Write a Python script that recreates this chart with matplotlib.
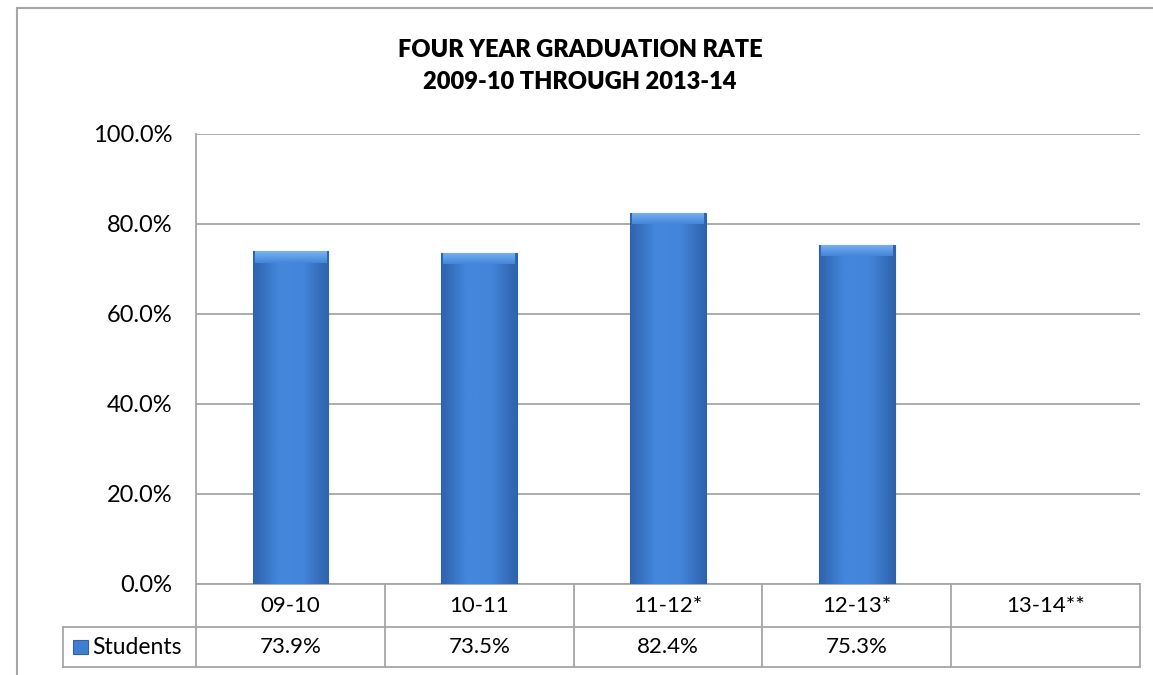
import numpy as np
import matplotlib
matplotlib.use('Agg')
import matplotlib.pyplot as plt
from matplotlib.colors import LinearSegmentedColormap
from matplotlib.lines import Line2D
from matplotlib.patches import Rectangle

plt.rcParams['font.family'] = ['Lato', 'DejaVu Sans']

# data
categories = ['09-10', '10-11', '11-12*', '12-13*', '13-14**']
students = [73.9, 73.5, 82.4, 75.3, np.nan]
series_name = 'Students'
title = 'FOUR YEAR GRADUATION RATE\n2009-10 THROUGH 2013-14'

W, H = 1153, 675
fig = plt.figure(figsize=(W / 100, H / 100), dpi=100)
grey = '#a6a6a6'
fs = 16

# outer chart frame (left and top only visible)
fig.add_artist(Line2D([17 / W, 17 / W], [0, 1 - 8 / H], color=grey, lw=1.5))
fig.add_artist(Line2D([17 / W, 1], [1 - 8 / H, 1 - 8 / H], color=grey, lw=1.5))

# plot area
x0, x1, y_top, y_bot = 196, 1140, 134, 584
ax = fig.add_axes([x0 / W, 1 - y_bot / H, (x1 - x0) / W, (y_bot - y_top) / H])

x = np.arange(len(categories))
bars = ax.bar(x, students, width=0.4, color='#3f7fd3', edgecolor='#2f62a8',
              linewidth=0.8, zorder=3)

# soft horizontal shading + bevel on each bar
cmap = LinearSegmentedColormap.from_list('bar', ['#2f63ad', '#4387dd', '#4385da', '#2f63ad'])
grad = np.linspace(0, 1, 64).reshape(1, -1)
top = LinearSegmentedColormap.from_list('top', ['#4385da', '#7ab3f0'])
vgrad = np.linspace(0, 1, 32).reshape(-1, 1)
for b in bars:
    h = b.get_height()
    if np.isnan(h):
        continue
    bx, bw = b.get_x(), b.get_width()
    im = ax.imshow(grad, cmap=cmap, aspect='auto', extent=[bx, bx + bw, 0, h], zorder=3.5)
    im.set_clip_path(b)
    im2 = ax.imshow(vgrad, cmap=top, aspect='auto', origin='lower',
                    extent=[bx + 0.01, bx + bw - 0.01, h - 2.5, h], zorder=3.6)
    im2.set_clip_path(b)

ax.set_xlim(-0.5, len(categories) - 0.5)
ax.set_ylim(0, 100)
ax.set_yticks(np.arange(0, 101, 20))
ax.set_yticklabels([f'{v:.1f}%' for v in np.arange(0, 101, 20)], fontsize=17)
ax.tick_params(axis='y', length=0, pad=17)
ax.set_xticks([])
ax.grid(axis='y', color=grey, lw=1.3, zorder=0)
ax.set_axisbelow(True)
for s in ['top', 'right', 'bottom']:
    ax.spines[s].set_visible(False)
ax.spines['left'].set_color(grey)
ax.spines['left'].set_linewidth(1.3)

# data table below the plot
ph = y_bot - y_top
r1 = -(627 - y_bot) / ph
r2 = -(667 - y_bot) / ph
lx = (63 - x0) / (x1 - x0)
ta = ax.transAxes
bt = ax.get_xaxis_transform()
kw = dict(color=grey, lw=1.3, clip_on=False)
ax.plot([0, 1], [0, 0], transform=ta, **kw)
ax.plot([lx, 1], [r1, r1], transform=ta, **kw)
ax.plot([lx, 1], [r2, r2], transform=ta, **kw)
ax.plot([lx, lx], [r1, r2], transform=ta, **kw)
for i in range(len(categories) + 1):
    ax.plot([i - 0.5, i - 0.5], [0, r2], transform=bt, **kw)

for i, (c, v) in enumerate(zip(categories, students)):
    ax.text(i, r1 / 2, c, transform=bt, ha='center', va='center', fontsize=fs)
    if not np.isnan(v):
        ax.text(i, (r1 + r2) / 2, f'{v:.1f}%', transform=bt, ha='center', va='center', fontsize=fs)

# legend key in the table
ax.add_patch(Rectangle((lx + 0.011, (r1 + r2) / 2 - 0.016), 0.015, 0.032, transform=ta,
                       facecolor='#3f7fd3', edgecolor='#2f62a8', lw=0.8, clip_on=False))
ax.text(lx + 0.031, (r1 + r2) / 2, series_name, transform=ta, ha='left', va='center', fontsize=16.5)

fig.text(0.503, 1 - 66 / H, title, ha='center', va='center', fontsize=17,
         fontweight='heavy', linespacing=1.6)

fig.savefig('out.png', dpi=100)
